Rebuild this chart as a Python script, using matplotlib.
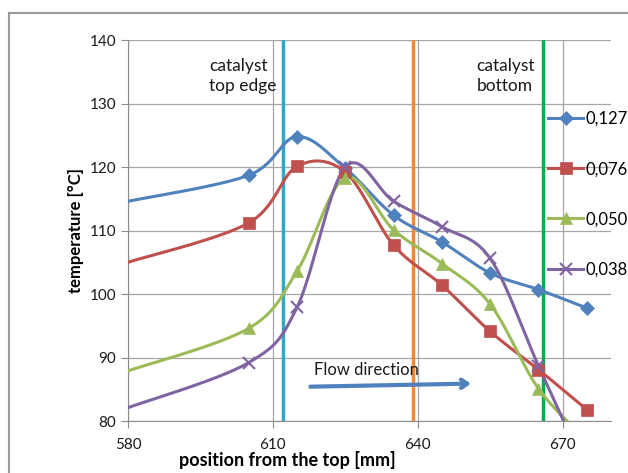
import matplotlib
matplotlib.use("Agg")
import matplotlib.pyplot as plt
from matplotlib.lines import Line2D
import numpy as np

plt.rcParams['font.family'] = ['Lato', 'DejaVu Sans']

# measurement positions [mm] and temperatures [°C] for each flow rate
positions = [580, 605, 615, 625, 635, 645, 655, 665, 675]
t_0127 = [114.6, 118.7, 124.8, 119.8, 112.4, 108.2, 103.3, 100.7, 97.8]
t_0076 = [105.0, 111.2, 120.1, 119.2, 107.7, 101.4, 94.1, 88.1, 81.8]
t_0050 = [87.9, 94.6, 103.6, 118.3, 110.1, 104.8, 98.4, 85.1, 77.0]
t_0038 = [82.1, 89.2, 97.9, 120.0, 114.6, 110.6, 105.6, 88.7, 72.0]
labels = ['0,127', '0,076', '0,050', '0,038']

# catalyst boundaries and mid marker
top_edge = 612
mid_line = 639
bottom_edge = 666

colors = ['#4F81BD', '#C0504D', '#9BBB59', '#8064A2']
markers = ['D', 's', '^', 'x']
msizes = [7, 9, 9, 8]


def smooth(x, y, n=30):
    # catmull-rom style smoothing like spreadsheet "smoothed line"
    x = np.asarray(x, float)
    y = np.asarray(y, float)
    px = np.concatenate([[x[0]], x, [x[-1]]])
    py = np.concatenate([[y[0]], y, [y[-1]]])
    xs, ys = [], []
    t = np.linspace(0, 1, n)
    for i in range(1, len(px) - 2):
        p0 = np.array([px[i], py[i]])
        p3 = np.array([px[i + 1], py[i + 1]])
        c1 = p0 + (np.array([px[i + 1], py[i + 1]]) - np.array([px[i - 1], py[i - 1]])) / 6
        c2 = p3 - (np.array([px[i + 2], py[i + 2]]) - np.array([px[i], py[i]])) / 6
        b = ((1 - t) ** 3)[:, None] * p0 + (3 * (1 - t) ** 2 * t)[:, None] * c1 \
            + (3 * (1 - t) * t ** 2)[:, None] * c2 + (t ** 3)[:, None] * p3
        xs.extend(b[:, 0])
        ys.extend(b[:, 1])
    return xs, ys


fig = plt.figure(figsize=(6.28, 4.73), dpi=100)
ax = fig.add_axes([0.2038, 0.1099, 0.769, 0.8055])

# outer chart frame
fig.add_artist(Line2D([9 / 628, 9 / 628], [0, 1 - 13 / 473], color='#9A9A9A', lw=1.5))
fig.add_artist(Line2D([9 / 628, 1], [1 - 13 / 473, 1 - 13 / 473], color='#9A9A9A', lw=1.5))

ax.set_xlim(580, 680)
ax.set_ylim(80, 140)
ax.set_xticks([580, 610, 640, 670])
ax.set_yticks(range(80, 141, 10))
ax.grid(True, color='#A6A6A6', lw=0.9)
ax.set_axisbelow(True)
for s in ['top', 'right']:
    ax.spines[s].set_visible(False)
for s in ['left', 'bottom']:
    ax.spines[s].set_color('#8C8C8C')
ax.tick_params(colors='#8C8C8C', labelcolor='#1A1A1A', labelsize=11, length=5)
ax.tick_params(axis='x', pad=7)

ax.axvline(top_edge, color='#31A8C4', lw=2.5, zorder=2)
ax.axvline(mid_line, color='#F0883A', lw=2.5, zorder=2)
ax.axvline(bottom_edge, color='#00B050', lw=2.5, zorder=2)

handles = []
for y, c, m, ms, lab in zip([t_0127, t_0076, t_0050, t_0038], colors, markers, msizes, labels):
    sx, sy = smooth(positions, y)
    ax.plot(sx, sy, color=c, lw=2.2, zorder=3)
    ax.plot(positions[1:], y[1:], ls='none', marker=m, color=c, ms=ms,
            mew=1.5 if m == 'x' else 0.5, zorder=4)
    handles.append(Line2D([], [], color=c, lw=2.2, marker=m, ms=ms,
                          mew=1.5 if m == 'x' else 0.5))

ax.legend(handles, labels, frameon=False, fontsize=12, loc='upper left',
          bbox_to_anchor=(548 / 628, 1 - 111 / 473), bbox_transform=fig.transFigure,
          handlelength=2.1, handletextpad=0.15, labelspacing=2.05, borderpad=0,
          borderaxespad=0)

ax.text(596.8, 134.4, 'catalyst\ntop edge', fontsize=12.5, color='#1A1A1A',
        ha='left', va='center', linespacing=1.3)
ax.text(652.2, 134.4, 'catalyst\nbottom', fontsize=12.5, color='#1A1A1A',
        ha='left', va='center', linespacing=1.3)
ax.text(618.6, 88.0, 'Flow direction', fontsize=12, color='#1A1A1A', ha='left', va='center')
ax.annotate('', xy=(651.6, 85.9), xytext=(617.2, 85.4),
            arrowprops=dict(arrowstyle='->,head_length=0.45,head_width=0.3',
                            color='#4F81BD', lw=3))

ax.set_xlabel('position from the top [mm]', fontsize=13, fontweight='bold')
ax.xaxis.set_label_coords(0.33, -0.078)
ax.set_ylabel('temperature [°C]', fontsize=12, fontweight='bold', labelpad=4)

fig.savefig('out.png', dpi=100)
